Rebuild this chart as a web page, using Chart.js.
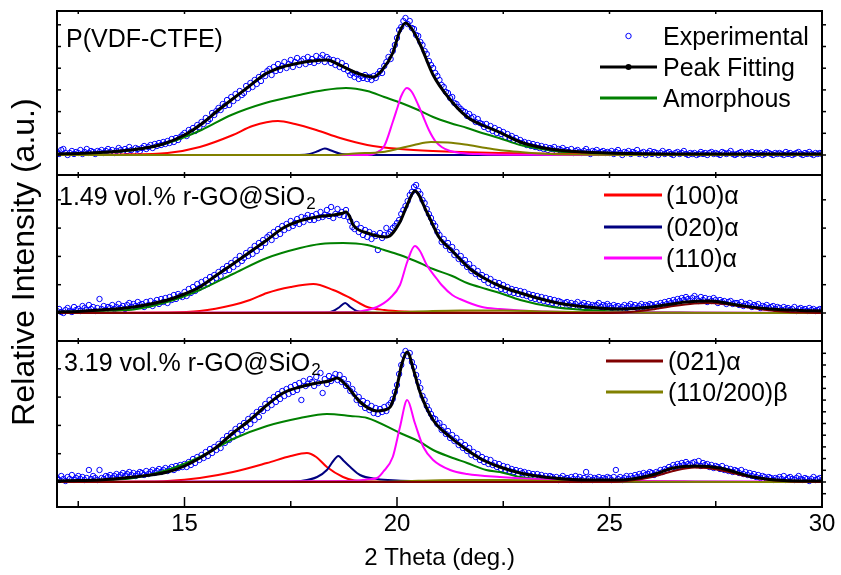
<!DOCTYPE html>
<html><head><meta charset="utf-8">
<script src="https://cdn.jsdelivr.net/npm/chart.js@4.4.0/dist/chart.umd.min.js"></script>
<style>html,body{margin:0;padding:0;background:#fff;}#wrap{width:841px;height:575px;position:relative;}</style>
</head><body><div id="wrap"><canvas id="c" width="841" height="575"></canvas></div>
<script>
// ---------------- DATA ----------------
const thetaStart = 12, thetaStep = 0.05;           // 2-theta sampling of the experimental scans
const xMajorTicks = [15, 20, 25, 30];
const xMinorTicks = [12.5, 17.5, 22.5, 27.5];
const panelLabels = ['P(VDF-CTFE)', '1.49 vol.% r-GO@SiO', '3.19 vol.% r-GO@SiO'];
const legendNames = ['Experimental', 'Peak Fitting', 'Amorphous', '(100)\u03b1', '(020)\u03b1', '(110)\u03b1', '(021)\u03b1', '(110/200)\u03b2'];

// Experimental intensities (one value per 0.05 deg, 12 -> 30)
const expP1 = [
3,1,5,6,2,0,2,4,1,3,2,5,1,3,6,2,4,3,1,4,
3,5,2,4,6,3,5,2,4,7,5,3,6,4,8,5,3,7,6,4,
7,9,6,8,10,7,11,9,12,10,13,11,14,12,16,13,17,15,18,20,
22,19,25,23,27,24,30,28,33,31,37,34,36,42,40,44,47,45,51,49,
55,50,58,54,61,57,64,60,62,69,66,72,68,75,71,78,74,81,79,84,
86,80,88,84,91,85,89,93,87,91,95,88,93,97,90,94,96,91,98,93,
96,92,99,94,97,100,93,98,96,92,95,90,94,88,92,86,89,84,80,82,
78,81,76,79,77,80,76,78,75,79,77,81,84,82,89,93,98,96,104,110,
117,125,128,134,137,131,134,127,126,120,119,113,110,104,101,94,90,87,82,79,
75,70,68,63,62,57,58,52,51,48,46,44,43,39,41,37,38,33,36,32,
31,28,31,26,29,24,27,22,25,21,23,18,21,17,19,15,17,13,15,12,
13,10,12,9,11,8,10,7,9,6,8,5,7,6,8,4,6,5,7,4,
5,3,6,2,4,5,3,2,4,6,3,1,4,3,5,2,3,4,2,3,
2,4,1,3,5,2,0,3,2,4,1,3,2,5,1,2,3,0,2,4,
1,3,2,0,2,4,1,2,3,1,0,2,3,1,2,4,1,0,2,1,
2,0,1,3,1,2,0,2,3,1,2,1,0,3,2,1,2,4,1,0,
1,2,3,0,1,2,1,3,0,2,1,2,0,1,3,2,1,0,2,1,
2,1,0,3,1,2,0,1,2,3,1,0,2,1,3,1,0,2,1,2,
1];
const expP2 = [
2,4,1,0,3,5,2,1,6,3,4,2,7,5,3,8,4,6,2,5,
14,4,7,3,6,5,8,4,6,9,5,7,4,8,10,6,9,7,11,8,
9,6,11,8,12,7,10,13,9,14,11,15,10,16,13,18,14,19,17,16,
21,17,24,20,26,22,29,25,31,27,33,29,36,32,38,35,41,37,44,42,
47,43,50,46,53,49,57,52,55,60,57,63,59,67,62,70,66,73,70,76,
78,73,81,77,84,79,87,83,89,85,92,87,90,94,89,96,91,95,98,93,
97,93,99,95,101,96,98,103,97,106,95,99,104,98,101,97,103,96,92,86,
84,89,81,85,78,83,76,81,74,79,77,63,80,75,78,85,79,81,85,87,
90,93,99,103,107,112,118,121,126,128,122,119,113,110,104,99,95,90,87,81,
78,71,74,67,70,63,66,58,61,54,57,50,53,46,49,42,45,39,42,36,
38,33,36,30,34,28,31,27,30,24,28,23,26,21,24,20,23,19,22,18,
21,17,19,15,18,14,17,13,16,12,15,11,14,10,13,9,12,11,8,10,
11,8,10,7,9,11,7,8,10,7,9,6,8,7,8,10,6,8,7,9,
7,5,8,6,7,4,6,8,5,7,9,6,8,5,7,9,6,8,7,9,
8,6,9,7,10,8,11,9,12,10,13,11,14,12,15,13,16,14,12,15,
17,14,12,16,13,15,11,14,12,15,13,10,13,11,12,9,11,12,9,10,
10,8,11,7,9,8,10,6,8,7,9,5,7,6,8,5,6,7,4,6,
5,3,6,4,5,3,4,6,2,4,5,3,4,2,5,3,4,2,3,4,
3];
const expP3 = [
4,2,6,3,1,5,3,7,2,4,6,3,5,2,4,12,3,6,4,2,
12,4,3,6,5,7,4,6,8,5,7,9,6,8,10,7,9,6,8,10,
9,7,11,8,10,12,9,11,13,10,12,14,11,13,15,12,16,14,17,15,
18,15,20,17,23,19,25,22,27,24,30,26,33,29,35,32,38,34,42,39,
46,42,49,45,53,48,56,52,59,55,63,58,66,62,70,65,73,71,78,74,
82,77,85,80,88,83,91,86,93,88,95,90,97,92,99,82,101,96,98,103,
100,96,105,99,109,89,103,98,106,101,104,108,102,107,100,103,96,98,91,93,
88,82,85,78,81,74,79,72,76,69,74,68,73,70,75,71,77,79,83,90,
97,108,117,127,131,126,129,120,115,107,100,94,86,82,76,72,68,64,63,58,
59,52,55,48,51,44,47,41,44,37,40,34,37,31,34,27,30,25,28,22,
25,20,23,18,22,17,19,15,18,13,16,12,15,11,13,10,12,8,11,9,
10,7,9,6,8,5,8,5,7,4,6,3,6,5,3,5,2,4,6,3,
4,2,5,3,6,3,5,2,4,10,3,5,2,4,3,5,2,4,3,5,
4,2,5,12,3,5,2,4,6,3,6,4,7,5,8,6,9,7,8,10,
9,7,10,9,12,10,13,12,15,13,17,15,18,16,19,17,20,18,17,19,
20,17,21,16,19,17,18,15,17,14,16,15,13,16,12,14,11,13,10,12,
11,9,12,8,10,7,9,6,8,5,7,4,6,5,3,5,4,2,4,3,
5,3,6,2,4,5,3,2,4,6,3,2,4,3,1,3,5,2,3,4,
2];

// Panel 1 : P(VDF-CTFE)   [2theta, intensity]
const fitP1 = [[12,1],[12.5,1.5],[13,2.5],[13.5,4],[14,6.5],[14.5,11],[15,20],[15.4,31],[15.8,45],[16.1,55],[16.5,68],[16.9,81],[17.3,88],[17.7,92],[18,94],[18.35,95],[18.65,90],[19.05,82],[19.45,78],[19.65,85],[19.9,102],[20.05,122],[20.2,132],[20.35,126],[20.55,110],[20.85,80],[21.2,58],[21.65,38],[22,30],[22.4,23],[22.9,13],[23.6,6],[24.4,3],[25.5,1.5],[27,1],[30,1]];
const amorphP1 = [[12,0.5],[13,2],[13.8,5],[14.6,12],[15.4,25],[16.1,40],[16.9,52],[17.7,60],[18.3,65],[18.8,67],[19.3,64],[19.7,58],[20.1,52],[20.5,45],[20.85,38],[21.25,32],[21.65,27],[22,22],[22.4,17],[22.9,10],[23.4,6],[23.9,3],[24.5,1.5],[25.5,0.5],[27,0],[30,0]];
const p100P1 = [[12,0],[13.5,0.5],[14.6,2],[15.36,8],[16.14,20],[16.6,29],[17.2,34],[17.6,31],[18.1,25],[18.66,17],[19.3,10],[20.07,6],[20.85,4],[22.4,2],[24,1],[26,0.5],[30,0]];
const p020P1 = [[12,0],[17.7,0],[17.95,1],[18.15,4],[18.3,6.5],[18.45,4.5],[18.65,1.5],[18.9,0.3],[19.3,0],[30,0]];
const p110P1 = [[12,0],[19.3,0],[19.5,2],[19.7,9],[19.9,33],[20,46],[20.1,59],[20.23,67],[20.35,63],[20.5,50],[20.6,40],[20.75,25],[20.9,14],[21.05,8],[21.25,4],[21.5,2],[22,0.8],[23,0.3],[24,0],[30,0]];
const betaP1 = [[12,0],[18.5,0],[19,1.5],[19.67,3],[20,6],[20.4,10],[20.8,13],[21.2,12.5],[21.6,10.5],[22.1,7],[22.5,4.5],[22.9,3],[23.6,1],[24.5,0.3],[25.5,0],[30,0]];

// Panel 2 : 1.49 vol.% r-GO@SiO2
const fitP2 = [[12,1],[12.5,1.5],[13,3],[13.5,4.5],[13.8,6],[14.2,9],[14.6,13],[15,19],[15.36,26],[15.76,38],[16.14,49],[16.54,61],[16.94,73],[17.32,85],[17.7,92],[18.12,96],[18.5,98],[18.7,99.5],[18.8,101],[18.88,97],[18.97,88],[19.3,80],[19.76,76],[20.07,91],[20.24,108],[20.42,122],[20.7,101],[21,75],[21.3,62],[21.5,53],[21.75,43],[22,36],[22.42,27],[22.9,20],[23.67,11],[24.47,6],[25.25,4],[26,6],[26.8,11],[27.36,12],[28,8],[28.78,4],[29.5,2.5],[30,2]];
const amorphP2 = [[12,1],[13,2],[13.8,3.5],[14.59,11],[15.36,23],[16.14,39],[16.94,55],[17.72,65],[18.2,69],[18.73,70],[19.3,68],[19.7,63],[20.07,58],[20.54,50],[20.85,44],[21.3,37],[21.65,30],[22.1,24],[22.42,20],[22.9,13],[23.67,6],[24.47,3],[25.5,1],[27,0.3],[30,0]];
const p100P2 = [[12,0],[14.5,0.5],[15.36,2],[16.14,8],[16.54,13],[16.94,20],[17.5,26],[18.03,29],[18.5,23],[18.9,15],[19.3,6],[19.7,3],[20.2,1.5],[21,0.8],[23,0.3],[30,0]];
const p020P2 = [[12,0],[18.3,0],[18.5,2],[18.65,6],[18.78,10],[18.9,6],[19.05,2],[19.3,0.5],[19.6,0],[30,0]];
const p110P2 = [[12,0],[19,1],[19.3,3],[19.53,6],[19.84,15],[20.07,28],[20.24,51],[20.42,67],[20.54,62],[20.7,48],[20.94,34],[21.05,28],[21.3,18],[21.48,14],[22,6],[22.42,4],[22.9,2.5],[24,1],[26,0.5],[30,0.3]];
const p021P2 = [[12,0],[25,0],[25.5,1],[26,3.5],[26.5,7],[27,9.5],[27.3,10],[27.7,9],[28.2,6],[28.7,3],[29.2,1],[29.7,0.3],[30,0]];
const betaP2 = [[12,0],[19.5,0.5],[20.5,1.5],[21.5,2.5],[22.5,2.5],[23.5,1.5],[24.5,0.8],[26,0.3],[30,0]];

// Panel 3 : 3.19 vol.% r-GO@SiO2
const fitP3 = [[12,1],[12.5,1.5],[13,2],[13.8,5],[14.6,10],[15,16],[15.36,24],[15.76,35],[16.14,49],[16.54,62],[16.94,77],[17.32,89],[17.72,95],[18.12,99],[18.4,101],[18.59,104],[18.75,99],[18.9,92],[19.13,80],[19.53,71],[19.7,72],[19.84,75],[19.98,92],[20.12,119],[20.24,130],[20.39,112],[20.54,90],[20.85,62],[21.25,45],[21.65,32],[22.02,22],[22.42,15],[22.9,9],[23.67,4],[24.47,2],[25.25,2],[26,7],[26.5,14],[27.05,16],[27.6,14],[28.38,5],[29.1,1.5],[30,1]];
const amorphP3 = [[12,0.5],[13,1.5],[13.8,4],[14.6,12],[15.36,25],[16.14,43],[16.94,56],[17.72,64],[18.35,68],[18.9,66],[19.3,64],[20.07,49],[20.54,40],[20.85,32],[21.25,25],[21.65,19],[22.1,12],[22.42,10],[22.9,5],[23.67,2],[24.5,1],[26,0.2],[30,0]];
const p100P3 = [[12,0],[14,0.5],[14.6,1],[15.36,4],[16.14,10],[16.94,19],[17.5,26],[17.88,29],[18.1,25],[18.35,15],[18.73,5],[19,1.5],[19.4,0.5],[20,0.2],[30,0]];
const p020P3 = [[12,0],[17.5,0.5],[17.72,1],[18.12,5],[18.35,12],[18.5,21],[18.62,26],[18.75,21],[18.9,15],[19.13,7],[19.53,3],[20,1.5],[20.5,0.8],[21,0.5],[22,0.2],[30,0]];
const p110P3 = [[12,0],[18.8,1],[19.3,2.5],[19.53,4],[19.67,10],[19.9,25],[20.07,55],[20.24,82],[20.42,59],[20.62,35],[20.85,22],[21.25,12],[21.65,8],[22.42,5],[23.5,2.5],[25,1.2],[27,0.6],[30,0.3]];
const p021P3 = [[12,0],[25,0],[25.5,1.5],[26,5],[26.5,11],[27,14.5],[27.3,14],[27.7,11],[28.2,6],[28.7,2.5],[29.2,0.8],[29.7,0.2],[30,0]];
const betaP3 = [[12,0],[19.5,0.3],[20.5,1.2],[21.5,2],[22.5,2],[23.5,1.2],[24.5,0.5],[26,0.2],[30,0]];

// ---------------- BUILD ----------------
const FONT = '"Liberation Sans", Arial, Helvetica, sans-serif';
const thetaGrid = expP1.map((_, i) => +(thetaStart + i * thetaStep).toFixed(2));
const toPts = a => a.map(p => ({x: p[0], y: p[1]}));
const expPts = a => a.map((v, i) => ({x: thetaGrid[i], y: v}));

const COLORS = {exp:'#0000FF', fit:'#000000', amorph:'#008000', p100:'#FF0000', p020:'#000080', p110:'#FF00FF', p021:'#800000', beta:'#808000'};
const ORDER = {exp:10, amorph:6, p100:5, p020:4, p110:3, beta:2, p021:1, fit:0};

const panels = [
  {axis:'y1', exp:expP1, fit:fitP1, amorph:amorphP1, p100:p100P1, p020:p020P1, p110:p110P1, beta:betaP1},
  {axis:'y2', exp:expP2, fit:fitP2, amorph:amorphP2, p100:p100P2, p020:p020P2, p110:p110P2, p021:p021P2, beta:betaP2},
  {axis:'y3', exp:expP3, fit:fitP3, amorph:amorphP3, p100:p100P3, p020:p020P3, p110:p110P3, p021:p021P3, beta:betaP3}
];

const datasets = [];
panels.forEach(p => {
  datasets.push({label:'exp', data:expPts(p.exp), yAxisID:p.axis, showLine:false, pointRadius:2.7,
    pointStyle:'circle', pointBorderColor:COLORS.exp, pointBackgroundColor:'rgba(0,0,0,0)', pointBorderWidth:1,
    borderColor:COLORS.exp, order:ORDER.exp});
  ['amorph','p100','p020','p110','beta','p021','fit'].forEach(k => {
    if (!p[k]) return;
    datasets.push({label:k, data:toPts(p[k]), yAxisID:p.axis, borderColor:COLORS[k],
      borderWidth: k === 'fit' ? 3 : 2, pointRadius:0, cubicInterpolationMode:'monotone', fill:false, order:ORDER[k]});
  });
});

const panelAxes = ['y1','y2','y3'];
const yTickStepL = [21.7, 28.3, 28.3];
const yTickStepR = [21.7, 28.3, 11.7];

const framePlugin = {
  id:'frames',
  afterDatasetsDraw(chart){
    const ctx = chart.ctx, a = chart.chartArea, xs = chart.scales.x;
    ctx.save();
    ctx.strokeStyle = '#000';
    panelAxes.forEach((id, i) => {
      const ys = chart.scales[id], t = ys.top, b = ys.bottom;
      ctx.lineWidth = 2;
      ctx.strokeRect(a.left, t, a.right - a.left, b - t);
      ctx.lineWidth = 1.5;
      const last = i === panelAxes.length - 1;
      xMajorTicks.map(v => [v, true]).concat(xMinorTicks.map(v => [v, false])).forEach(([v, major]) => {
        const px = xs.getPixelForValue(v);
        ctx.beginPath(); ctx.moveTo(px, t); ctx.lineTo(px, t + 3); ctx.stroke();
        const len = last ? (major ? 10 : 6) : 3;
        ctx.beginPath(); ctx.moveTo(px, b); ctx.lineTo(px, b - len); ctx.stroke();
      });
      const sl = yTickStepL[i], sr = yTickStepR[i];
      for (let v = Math.ceil(ys.min / sl) * sl; v <= ys.max; v += sl) {
        const py = ys.getPixelForValue(v);
        if (py < t + 3 || py > b - 3) continue;
        ctx.beginPath(); ctx.moveTo(a.left, py); ctx.lineTo(a.left + 4, py); ctx.stroke();
      }
      for (let v = Math.ceil(ys.min / sr) * sr; v <= ys.max; v += sr) {
        const py = ys.getPixelForValue(v);
        if (py < t + 3 || py > b - 3) continue;
        ctx.beginPath(); ctx.moveTo(a.right, py); ctx.lineTo(a.right + 4, py); ctx.stroke();
      }
    });
    ctx.restore();
  }
};

const legendItems = [
  {n:0, kind:'marker', k:'exp',   x1:600, x2:657, y:36,  tx:663},
  {n:1, kind:'dotline', k:'fit',  x1:600, x2:657, y:67,  tx:663},
  {n:2, kind:'line', k:'amorph',  x1:600, x2:657, y:98,  tx:663},
  {n:3, kind:'line', k:'p100',    x1:604, x2:662, y:195, tx:666},
  {n:4, kind:'line', k:'p020',    x1:604, x2:662, y:227, tx:666},
  {n:5, kind:'line', k:'p110',    x1:604, x2:662, y:258, tx:666},
  {n:6, kind:'line', k:'p021',    x1:606, x2:663, y:361, tx:668},
  {n:7, kind:'line', k:'beta',    x1:606, x2:663, y:392, tx:668}
];

function drawSub(ctx, main, sub, x, y){
  ctx.font = '25px ' + FONT;
  ctx.fillText(main, x, y);
  const w = ctx.measureText(main).width;
  ctx.font = '17px ' + FONT;
  ctx.fillText(sub, x + w + 1, y + 4);
}

const textPlugin = {
  id:'texts',
  afterDraw(chart){
    const ctx = chart.ctx;
    ctx.save();
    ctx.fillStyle = '#000';
    // y title
    ctx.save();
    ctx.translate(34, 262);
    ctx.rotate(-Math.PI / 2);
    ctx.font = '32px ' + FONT;
    ctx.textAlign = 'center';
    ctx.textBaseline = 'alphabetic';
    ctx.fillText('Relative Intensity (a.u.)', 0, 0);
    ctx.restore();
    // panel labels
    ctx.textAlign = 'left';
    ctx.textBaseline = 'alphabetic';
    ctx.font = '25px ' + FONT;
    ctx.fillText(panelLabels[0], 66, 47);
    drawSub(ctx, panelLabels[1], '2', 59, 205);
    drawSub(ctx, panelLabels[2], '2', 64, 371);
    // legends
    legendItems.forEach(it => {
      const c = COLORS[it.k];
      if (it.kind === 'marker') {
        ctx.strokeStyle = c; ctx.lineWidth = 1;
        ctx.beginPath(); ctx.arc((it.x1 + it.x2) / 2, it.y, 2.7, 0, Math.PI * 2); ctx.stroke();
      } else {
        ctx.strokeStyle = c; ctx.lineWidth = 3;
        ctx.beginPath(); ctx.moveTo(it.x1, it.y); ctx.lineTo(it.x2, it.y); ctx.stroke();
        if (it.kind === 'dotline') {
          ctx.fillStyle = c;
          ctx.beginPath(); ctx.arc((it.x1 + it.x2) / 2, it.y, 3, 0, Math.PI * 2); ctx.fill();
          ctx.fillStyle = '#000';
        }
      }
      ctx.fillStyle = '#000';
      ctx.font = '25px ' + FONT;
      ctx.fillText(legendNames[it.n], it.tx, it.y + 9);
    });
    ctx.restore();
  }
};

new Chart(document.getElementById('c'), {
  type:'line',
  data:{datasets},
  options:{
    responsive:false, animation:false, devicePixelRatio:1,
    layout:{padding:{left:57, right:19, top:11, bottom:0}},
    plugins:{legend:{display:false}, tooltip:{enabled:false}},
    elements:{line:{tension:0}},
    scales:{
      x:{type:'linear', position:'bottom', min:12, max:30,
        grid:{display:false}, border:{display:false},
        afterBuildTicks: s => { s.ticks = xMajorTicks.map(v => ({value:v})); },
        ticks:{font:{family:FONT, size:24}, color:'#000', padding:-5, maxRotation:0, autoSkip:false},
        title:{display:true, text:'2 Theta (deg.)', color:'#000', font:{family:FONT, size:24}, padding:{top:0, bottom:2}},
        afterFit: s => { s.height = 68; }
      },
      y3:{type:'linear', position:'left', stack:'panels', stackWeight:166, min:-25, max:141, display:false},
      y2:{type:'linear', position:'left', stack:'panels', stackWeight:166, min:-28, max:138, display:false},
      y1:{type:'linear', position:'left', stack:'panels', stackWeight:164, min:-20, max:144, display:false}
    }
  },
  plugins:[framePlugin, textPlugin]
});
</script>
</body></html>
